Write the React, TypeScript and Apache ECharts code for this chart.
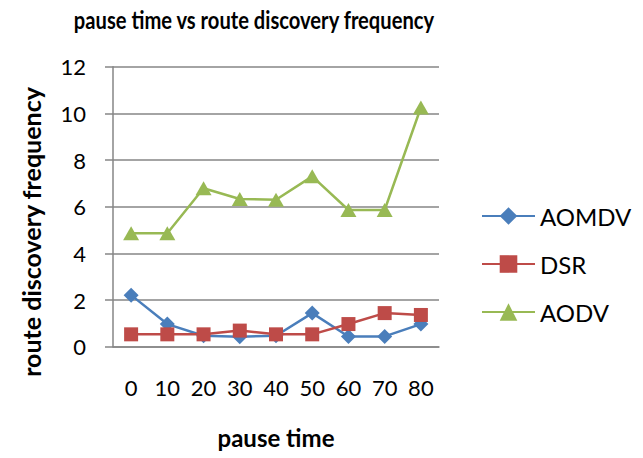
import React, { useEffect, useRef } from "react";
import * as echarts from "echarts";

const categories = ["0", "10", "20", "30", "40", "50", "60", "70", "80"];
const aomdv = [2.21, 0.97, 0.47, 0.43, 0.47, 1.44, 0.44, 0.44, 0.97];
const dsr = [0.53, 0.53, 0.53, 0.69, 0.53, 0.53, 0.97, 1.44, 1.36];
const aodv = [4.86, 4.86, 6.79, 6.33, 6.3, 7.3, 5.86, 5.86, 10.25];
const yTicks = { min: 0, max: 12, interval: 2 };

const FONT = "Lato";

export default function App() {
  const ref = useRef<HTMLDivElement>(null);
  useEffect(() => {
    const chart = echarts.init(ref.current!, null, { renderer: "svg" });
    const mk = (name: string, data: number[], color: string, symbol: string, size: number | number[]) => ({
      name,
      type: "line",
      data,
      symbol,
      symbolSize: size,
      showSymbol: true,
      lineStyle: { color, width: 2.5 },
      itemStyle: { color },
    });
    chart.setOption({
      animation: false,
      backgroundColor: "#ffffff",
      textStyle: { fontFamily: FONT },
      grid: { left: 113, right: 643 - 439, top: 66.7, bottom: 458 - 346.7, containLabel: false },
      xAxis: {
        type: "category",
        data: categories,
        boundaryGap: true,
        axisLine: { lineStyle: { color: "#868686", width: 1.5 } },
        axisTick: { show: false },
        axisLabel: { color: "#000", fontSize: 22, fontFamily: FONT, margin: 30 },
      },
      yAxis: {
        type: "value",
        min: yTicks.min,
        max: yTicks.max,
        interval: yTicks.interval,
        axisLine: { show: true, lineStyle: { color: "#868686", width: 1.5 } },
        axisTick: { show: true, length: 8, lineStyle: { color: "#868686", width: 1.5 } },
        axisLabel: { color: "#000", fontSize: 22, fontFamily: FONT, margin: 27 },
        splitLine: { lineStyle: { color: "#868686", width: 1.5 } },
      },
      legend: {
        orient: "vertical",
        left: 481,
        top: 204,
        padding: 0,
        itemWidth: 53,
        itemHeight: 22,
        itemGap: 24,
        textStyle: { color: "#000", fontSize: 24, fontFamily: FONT },
        data: ["AOMDV", "DSR", "AODV"],
      },
      graphic: [
        {
          type: "text",
          x: 254,
          y: 20,
          scaleX: 0.84,
          style: {
            text: "pause time vs route discovery frequency",
            font: `bold 24px ${FONT}`,
            fill: "#000",
            align: "center",
            verticalAlign: "middle",
          },
        },
        {
          type: "text",
          x: 276,
          y: 437,
          style: {
            text: "pause time",
            font: `bold 24px ${FONT}`,
            fill: "#000",
            align: "center",
            verticalAlign: "middle",
          },
        },
        {
          type: "text",
          x: 31,
          y: 232,
          rotation: Math.PI / 2,
          style: {
            text: "route discovery frequency",
            font: `bold 25px ${FONT}`,
            fill: "#000",
            align: "center",
            verticalAlign: "middle",
          },
        },
      ],
      series: [
        mk("AOMDV", aomdv, "#4A7EBB", "diamond", 15),
        mk("DSR", dsr, "#BE4B48", "rect", 14),
        mk("AODV", aodv, "#98B954", "triangle", [16, 14]),
      ],
    });
    return () => chart.dispose();
  }, []);
  return <div ref={ref} style={{ width: 643, height: 458, position: "absolute", left: 0, top: 0 }} />;
}
